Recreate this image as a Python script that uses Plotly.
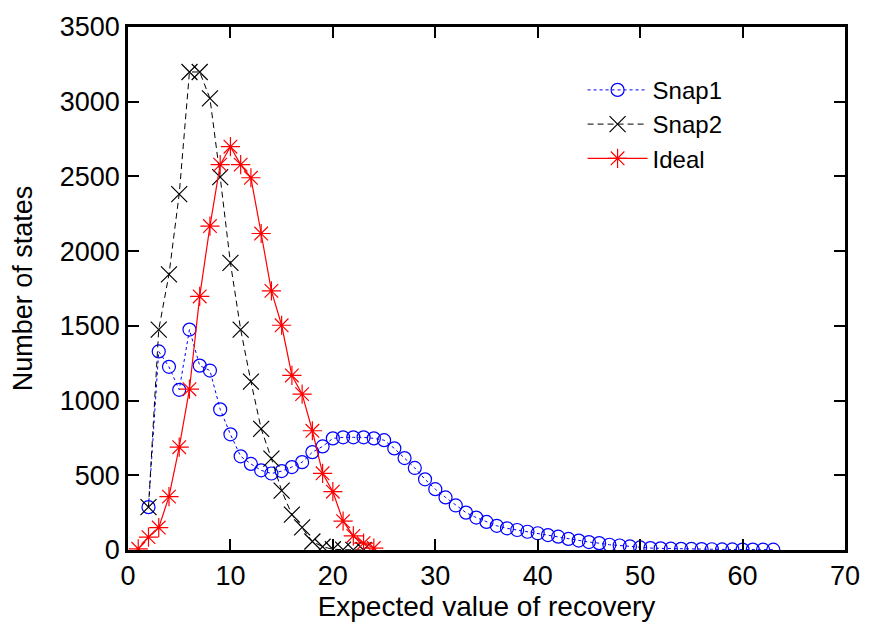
import plotly.graph_objects as go

# Snap1 (blue circles), x = 2..63
snap1_x = list(range(2, 64))
snap1_y = [287, 1329, 1226, 1072, 1475, 1234, 1201, 941, 774, 627,
           576, 533, 512, 528, 555, 588, 655, 693, 747, 754,
           754, 754, 747, 735, 680, 615, 549, 473, 407, 352,
           298, 250, 217, 188, 162, 145, 134, 122, 112, 100,
           89, 74, 63, 53, 46, 35, 30, 24, 17, 13,
           11, 9, 8, 7, 6, 5, 4, 4, 3, 3,
           2, 2]

# Snap2 (black crosses), x = 2..23
snap2_x = list(range(2, 24))
snap2_y = [287, 1475, 1844, 2382, 3199, 3199, 3022, 2495, 1921, 1475,
           1127, 811, 612, 397, 237, 151, 57, 22, 5, 2,
           1, 0]

# Ideal (red asterisks), x = 1..24
ideal_x = list(range(1, 25))
ideal_y = [8, 86, 150, 357, 688, 1076, 1697, 2168, 2579, 2699,
           2579, 2491, 2118, 1734, 1504, 1168, 1043, 798, 513, 390,
           193, 94, 46, 13]

x_ticks = [0, 10, 20, 30, 40, 50, 60, 70]
y_ticks = [0, 500, 1000, 1500, 2000, 2500, 3000, 3500]

FONT = "Liberation Sans, Arial, Helvetica, sans-serif"

fig = go.Figure()
fig.add_trace(go.Scatter(
    x=snap1_x, y=snap1_y, name="Snap1", mode="lines+markers",
    line=dict(color="#0000ff", width=1, dash="3px,3px"),
    marker=dict(symbol="circle-open", size=13, color="#0000ff",
                line=dict(width=1.2, color="#0000ff")),
))
fig.add_trace(go.Scatter(
    x=snap2_x, y=snap2_y, name="Snap2", mode="lines+markers",
    line=dict(color="#000000", width=1, dash="6px,4px"),
    marker=dict(symbol="x-thin-open", size=16, color="#000000",
                line=dict(width=1.2, color="#000000")),
))
fig.add_trace(go.Scatter(
    x=ideal_x, y=ideal_y, name="Ideal", mode="lines+markers",
    line=dict(color="#ff0000", width=1.2),
    marker=dict(symbol="asterisk-open", size=16, color="#ff0000",
                line=dict(width=1.2, color="#ff0000")),
))

axis_common = dict(
    showgrid=False, zeroline=False, showline=True, linecolor="black",
    linewidth=2.5, mirror="ticks", ticks="inside", ticklen=11,
    tickwidth=2, tickcolor="black",
    tickfont=dict(family=FONT, size=27, color="black"),
)

fig.update_xaxes(
    range=[0, 70], tickmode="array", tickvals=x_ticks,
    ticktext=[str(v) for v in x_ticks],
    title=dict(text="Expected value of recovery",
               font=dict(family=FONT, size=28, color="black"), standoff=0),
    **axis_common,
)
fig.update_yaxes(
    range=[0, 3500], tickmode="array", tickvals=y_ticks,
    ticktext=[str(v) for v in y_ticks],
    title=dict(text="Number of states",
               font=dict(family=FONT, size=27, color="black"), standoff=20),
    **axis_common,
)

fig.update_layout(
    width=872, height=627,
    margin=dict(l=128, r=23, t=17, b=77),
    paper_bgcolor="white", plot_bgcolor="white",
    font=dict(family=FONT, size=27, color="black"),
    legend=dict(
        x=0.634, y=0.922, xanchor="left", yanchor="top",
        bgcolor="rgba(0,0,0,0)", borderwidth=0,
        font=dict(family=FONT, size=24, color="black"),
        tracegroupgap=0, itemwidth=60,
    ),
)

fig.write_html("out.html", config={"displayModeBar": False},
               post_script="document.body.style.margin='0';")
